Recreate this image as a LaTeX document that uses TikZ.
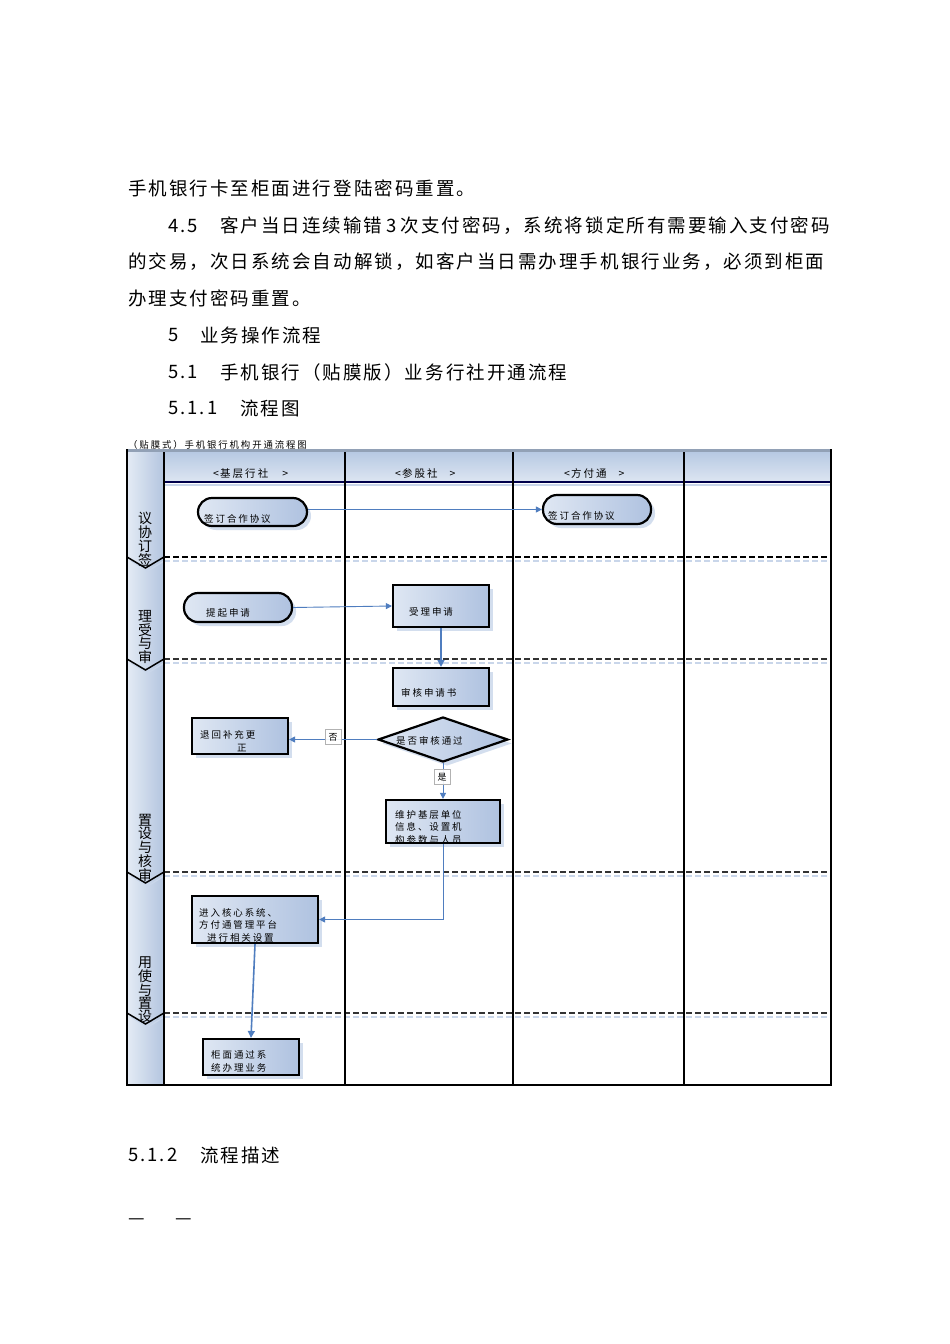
\documentclass[tikz,border=0pt]{standalone}
\usepackage{fontspec}
\newfontfamily\cjk{Noto Sans CJK SC}
\newfontfamily\cjkb[LetterSpace=11]{Noto Sans CJK SC}
\newfontfamily\cjks[LetterSpace=20]{Noto Sans CJK SC}
\usetikzlibrary{shapes.geometric,shadows,arrows.meta}
\definecolor{bxL}{HTML}{DFE7F3}
\definecolor{bxD}{HTML}{AFC2E0}
\definecolor{laneL}{HTML}{E4EBF5}
\definecolor{laneD}{HTML}{B3C5DF}
\definecolor{hdT}{HTML}{B7C9E3}
\definecolor{hdB}{HTML}{DDE6F2}
\definecolor{flowc}{HTML}{4F7DBF}
\definecolor{shd}{HTML}{C9D6EA}
\begin{document}
\begin{tikzpicture}[x=1pt,y=-1pt,
  body/.style={anchor=west,inner sep=0pt,font=\cjkb\fontsize{18.5}{20}\selectfont},
  boxtxt/.style={anchor=west,inner sep=0pt,align=left,font=\cjks\fontsize{9.5}{12.5}\selectfont},
  hdtxt/.style={anchor=west,inner sep=0pt,font=\cjks\fontsize{10.5}{12}\selectfont},
  lanetxt/.style={inner sep=0pt,align=center,font=\cjk\fontsize{14}{11.5}\selectfont},
  procbox/.style={draw=black,line width=2.2pt,left color=bxL,right color=bxD,
     drop shadow={fill=shd,opacity=0.8,shadow xshift=4pt,shadow yshift=-4pt}},
  term/.style={procbox,rounded corners=14pt},
  flow/.style={draw=flowc,line width=1.6pt,-{Triangle[length=7pt,width=7pt]}},
  flowthin/.style={draw=flowc,line width=0.9pt,-{Triangle[length=6pt,width=6pt]}},
  yesno/.style={draw=gray!60,fill=white,fill opacity=0.9,text opacity=1,line width=0.5pt,
     minimum width=16pt,minimum height=15pt,inner sep=0pt,font=\cjk\fontsize{9}{10}\selectfont},
  lanesep/.style={draw=black!80,line width=1.1pt,dash pattern=on 6pt off 3pt},
  lanesepshd/.style={draw=shd,line width=1.1pt,dash pattern=on 6pt off 3pt},
  colsep/.style={draw=black,line width=2.4pt},
  chev/.style={draw=black,line width=1.5pt}
]
\useasboundingbox (0,0) rectangle (950,1344);

% ---------- body text ----------
\node[body] (l1) at (128,188) {手机银行卡至柜面进行登陆密码重置。};
\node[body] (l2a) at (168,226) {4.5};
\node[body] (l2b) at (220,226) {客户当日连续输错\hspace{4pt}3\hspace{4pt}次支付密码，系统将锁定所有需要输入支付密码};
\node[body] (l3) at (128,262) {的交易，次日系统会自动解锁，如客户当日需办理手机银行业务，必须到柜面};
\node[body] (l4) at (128,298) {办理支付密码重置。};
\node[body] (l5a) at (168,335) {5};
\node[body] (l5b) at (200,335) {业务操作流程};
\node[body] (l6a) at (168,372) {5.1};
\node[body] (l6b) at (220,372) {手机银行（贴膜版）业务行社开通流程};
\node[body] (l7a) at (168,408) {5.1.1};
\node[body] (l7b) at (240,408) {流程图};
\node[body] (l8a) at (128,1155) {5.1.2};
\node[body] (l8b) at (200,1155) {流程描述};
\node[body] (d1) at (128,1222) {—};
\node[body] (d2) at (175,1222) {—};

% ---------- swimlane frame ----------
\fill[left color=laneL,right color=laneD] (127,449) rectangle (164,1085);
\fill[top color=hdT,bottom color=hdB] (164,452) rectangle (831,482);
\fill[white] (164,483) rectangle (831,1085);
\draw[draw=hdT!80!black,line width=3pt] (127,450) -- (831,450);
\draw[draw=black!70!blue,line width=1.4pt] (164,482) -- (831,482);
\draw[draw=shd,line width=1.2pt] (164,485) -- (831,485);

% lane separators
\draw[lanesepshd] (164,561) -- (831,561);
\draw[draw=black,line width=2pt,dash pattern=on 6pt off 3pt] (164,557) -- (831,557);
\foreach \yy in {659,872,1013}{
  \draw[lanesepshd] (164,\yy+4) -- (831,\yy+4);
  \draw[lanesep] (164,\yy) -- (831,\yy);
}
% chevrons in the lane column
\foreach \yy in {557,659,872,1013}{
  \draw[draw=shd,line width=1.2pt] (131,\yy+4) -- (148,\yy+14) -- (164,\yy+4);
  \draw[chev] (127,\yy) -- (145.5,\yy+11) -- (164,\yy);
}

% columns
\draw[draw=black,line width=1.2pt] (164,452) -- (164,1085);
\draw[colsep] (345,452) -- (345,1085);
\draw[colsep] (513,452) -- (513,1085);
\draw[colsep] (684,452) -- (684,1085);
\draw[colsep] (831,449) -- (831,1085);
\draw[draw=black,line width=2pt] (127,449) -- (127,1085);
\draw[draw=black,line width=2pt] (126,1085) -- (832,1085);

% caption and headers
\node[anchor=west,inner sep=0pt,font=\cjks\fontsize{9.4}{11}\selectfont] (cap) at (128,445) {（贴膜式）手机银行机构开通流程图};
\node[hdtxt] (h1) at (213,474) {<\hspace{1pt}基层行社\hspace{14pt}>};
\node[hdtxt] (h2) at (395,473) {<\hspace{1pt}参股社\hspace{12pt}>};
\node[hdtxt] (h3) at (564,473) {<\hspace{1pt}方付通\hspace{12pt}>};

% lane labels
\node[lanetxt] (lab1) at (145,539) {议\\协\\订\\签};
\node[lanetxt] (lab2) at (145,637) {理\\受\\与\\审};
\node[lanetxt] (lab3) at (145,848) {置\\设\\与\\核\\审};
\node[lanetxt] (lab4) at (145,990) {用\\使\\与\\置\\设};

% ---------- flow nodes ----------
\node[term,minimum width=109pt,minimum height=28pt] (n1) at (252.5,512) {};
\node[term,minimum width=108pt,minimum height=29pt] (n2) at (597,509.5) {};
\node[term,minimum width=108pt,minimum height=29pt] (n3) at (238,607.5) {};
\node[procbox,minimum width=96pt,minimum height=42pt] (n4) at (441,606) {};
\node[procbox,minimum width=96pt,minimum height=38pt] (n5) at (441,687) {};
\node[diamond,draw=black,line width=2.2pt,left color=bxL,right color=bxD,
      drop shadow={fill=shd,opacity=0.8,shadow xshift=4pt,shadow yshift=-4pt},
      aspect=2.9,minimum width=130pt,minimum height=45pt,inner sep=0pt] (n6) at (443,739.5) {};
\node[procbox,minimum width=96pt,minimum height=36pt] (n7) at (240,736) {};
\node[procbox,minimum width=114pt,minimum height=43pt] (n8) at (443,821.5) {};
\node[procbox,minimum width=126pt,minimum height=47pt] (n9) at (255,919.5) {};
\node[procbox,minimum width=96pt,minimum height=36pt] (n10) at (251,1057) {};

% texts in nodes
\node[boxtxt] (t1) at (204,519) {签订合作协议};
\node[boxtxt] (t2) at (548,516) {签订合作协议};
\node[boxtxt] (t3) at (206,613) {提起申请};
\node[boxtxt] (t4) at (409,612) {受理申请};
\node[boxtxt] (t5) at (401,693) {审核申请书};
\node[boxtxt] (t6) at (396,741) {是否审核通过};
\node[boxtxt] (t7) at (200,741) {退回补充更\\\hspace*{37pt}正};
\node[boxtxt] (t8) at (395,827) {维护基层单位\\信息、设置机\\构参数与人员};
\node[boxtxt] (t9) at (199,925) {进入核心系统、\\方付通管理平台\\\hspace*{8pt}进行相关设置};
\node[boxtxt] (t10) at (211,1061.5) {柜面通过系\\统办理业务};

% ---------- connectors ----------
\draw[flowthin] (n2.west -| n1.east) -- (n2.west);
\draw[flowthin] (n3.east) -- (n4.west);
\draw[flow] (n4.south) -- (n5.north);
\draw[flowthin] (n6.west) -- (n6.west -| n7.east);
\draw[flowthin] (n6.south) -- (n8.north);
\draw[flowthin] (n8.south) |- (n9.east);
\draw[flow] (n9.south) -- (n10.north);

\node[yesno] (no) at (333,737) {\raisebox{-3pt}{否}};
\node[yesno] (yes) at (442,777) {\raisebox{-3pt}{是}};
\end{tikzpicture}
\end{document}
